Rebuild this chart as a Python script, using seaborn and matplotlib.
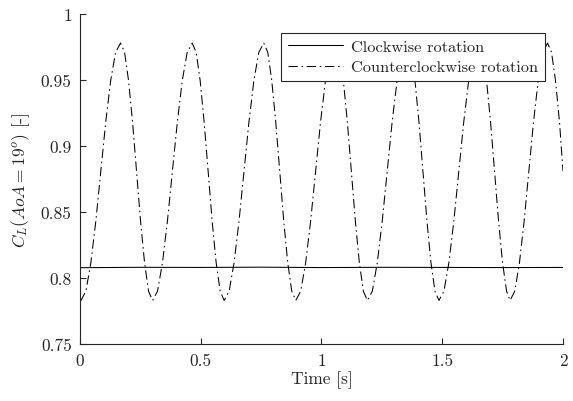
import matplotlib
matplotlib.use("Agg")
from matplotlib import pyplot as plt
import seaborn as sns

# clockwise rotation, nearly constant lift
cw_time = [0.0, 0.25, 0.5, 0.75, 1.0, 1.25, 1.5, 1.75, 2.0]
cw_cl = [0.8078, 0.8081, 0.8080, 0.8082, 0.8079, 0.8081, 0.8080, 0.8079, 0.8080]

# counterclockwise rotation, one line per half cycle (rise / fall)
ccw_time = [
    0.000,
    0.004, 0.0245, 0.045, 0.0655, 0.086, 0.1065, 0.127, 0.1475, 0.168,
    0.1846, 0.2011, 0.2177, 0.2343, 0.2508, 0.2674, 0.2839, 0.3005,
    0.321, 0.3415, 0.362, 0.3825, 0.403, 0.4235, 0.444, 0.4645,
    0.4811, 0.4976, 0.5142, 0.5308, 0.5473, 0.5639, 0.5804, 0.597,
    0.6175, 0.638, 0.6585, 0.679, 0.6995, 0.72, 0.7405, 0.761,
    0.7776, 0.7941, 0.8107, 0.8273, 0.8438, 0.8604, 0.8769, 0.8935,
    0.914, 0.9345, 0.955, 0.9755, 0.996, 1.0165, 1.037, 1.0575,
    1.0741, 1.0906, 1.1072, 1.1238, 1.1403, 1.1569, 1.1734, 1.19,
    1.2105, 1.231, 1.2515, 1.272, 1.2925, 1.313, 1.3335, 1.354,
    1.3706, 1.3871, 1.4037, 1.4203, 1.4368, 1.4534, 1.4699, 1.4865,
    1.507, 1.5275, 1.548, 1.5685, 1.589, 1.6095, 1.63, 1.6505,
    1.6671, 1.6836, 1.7002, 1.7168, 1.7333, 1.7499, 1.7664, 1.781,
    1.8004, 1.8198, 1.8391, 1.8585, 1.8779, 1.8973, 1.9166, 1.936,
    1.9526, 1.9691, 1.9857, 2.000,
]
ccw_cl = [
    0.7835,
    0.783, 0.790, 0.8115, 0.843, 0.8805, 0.918, 0.9495, 0.971, 0.978,
    0.971, 0.9495, 0.918, 0.8805, 0.843, 0.8115, 0.790, 0.783,
    0.790, 0.8115, 0.843, 0.8805, 0.918, 0.9495, 0.971, 0.978,
    0.971, 0.9495, 0.918, 0.8805, 0.843, 0.8115, 0.790, 0.783,
    0.790, 0.8115, 0.843, 0.8805, 0.918, 0.9495, 0.971, 0.978,
    0.971, 0.9495, 0.918, 0.8805, 0.843, 0.8115, 0.790, 0.783,
    0.790, 0.8115, 0.843, 0.8805, 0.918, 0.9495, 0.971, 0.978,
    0.971, 0.9495, 0.918, 0.8805, 0.843, 0.8115, 0.790, 0.783,
    0.790, 0.8115, 0.843, 0.8805, 0.918, 0.9495, 0.971, 0.978,
    0.971, 0.9495, 0.918, 0.8805, 0.843, 0.8115, 0.790, 0.783,
    0.790, 0.8115, 0.843, 0.8805, 0.918, 0.9495, 0.971, 0.978,
    0.971, 0.9495, 0.918, 0.8805, 0.843, 0.8115, 0.790, 0.783,
    0.790, 0.8115, 0.843, 0.8805, 0.918, 0.9495, 0.971, 0.978,
    0.971, 0.9495, 0.918, 0.881,
]

x_ticks = [0, 0.5, 1, 1.5, 2]
x_labels = ["0", "0.5", "1", "1.5", "2"]
y_ticks = [0.75, 0.8, 0.85, 0.9, 0.95, 1.0]
y_labels = ["0.75", "0.8", "0.85", "0.9", "0.95", "1"]

sns.set_style("ticks")
plt.rcParams["font.family"] = ["cmr10", "DejaVu Serif"]
plt.rcParams["mathtext.fontset"] = "cm"
plt.rcParams["axes.formatter.use_mathtext"] = True

axis_grey = "#262626"

fig = plt.figure(figsize=(5.73, 4.02), dpi=100)
ax = fig.add_axes([0.1396, 0.1418, 0.9825 - 0.1396, 0.9627 - 0.1418])

sns.lineplot(x=cw_time, y=cw_cl, color="black", lw=0.75,
             label="Clockwise rotation", ax=ax)
sns.lineplot(x=ccw_time, y=ccw_cl, color="black", lw=0.75,
             linestyle=(0, (9, 3.5, 1.5, 3.5)),
             label="Counterclockwise rotation", ax=ax)

ax.set_xlim(0, 2)
ax.set_ylim(0.75, 1)
ax.set_xticks(x_ticks)
ax.set_xticklabels(x_labels)
ax.set_yticks(y_ticks)
ax.set_yticklabels(y_labels)

for side in ["top", "right"]:
    ax.spines[side].set_visible(False)
for side in ["left", "bottom"]:
    ax.spines[side].set_color(axis_grey)
    ax.spines[side].set_linewidth(0.8)
ax.tick_params(bottom=True, left=True, direction="in", length=4, width=0.8,
               color=axis_grey, labelcolor=axis_grey, labelsize=12.5, pad=6)

ax.set_xlabel("Time [s]", fontsize=12.5, color=axis_grey, labelpad=2)
ax.set_ylabel(r"$C_L(AoA = 19^o)$ [-]", fontsize=12.5, color=axis_grey, labelpad=6)

leg = ax.legend(loc="upper right", bbox_to_anchor=(0.963, 0.942),
                borderaxespad=0, fontsize=11.8, frameon=True, fancybox=False,
                handlelength=3.4, handletextpad=0.5, borderpad=0.4,
                labelspacing=0.35)
leg.get_frame().set_edgecolor(axis_grey)
leg.get_frame().set_linewidth(0.8)
leg.get_frame().set_alpha(1)

fig.savefig("out.png", dpi=100)
